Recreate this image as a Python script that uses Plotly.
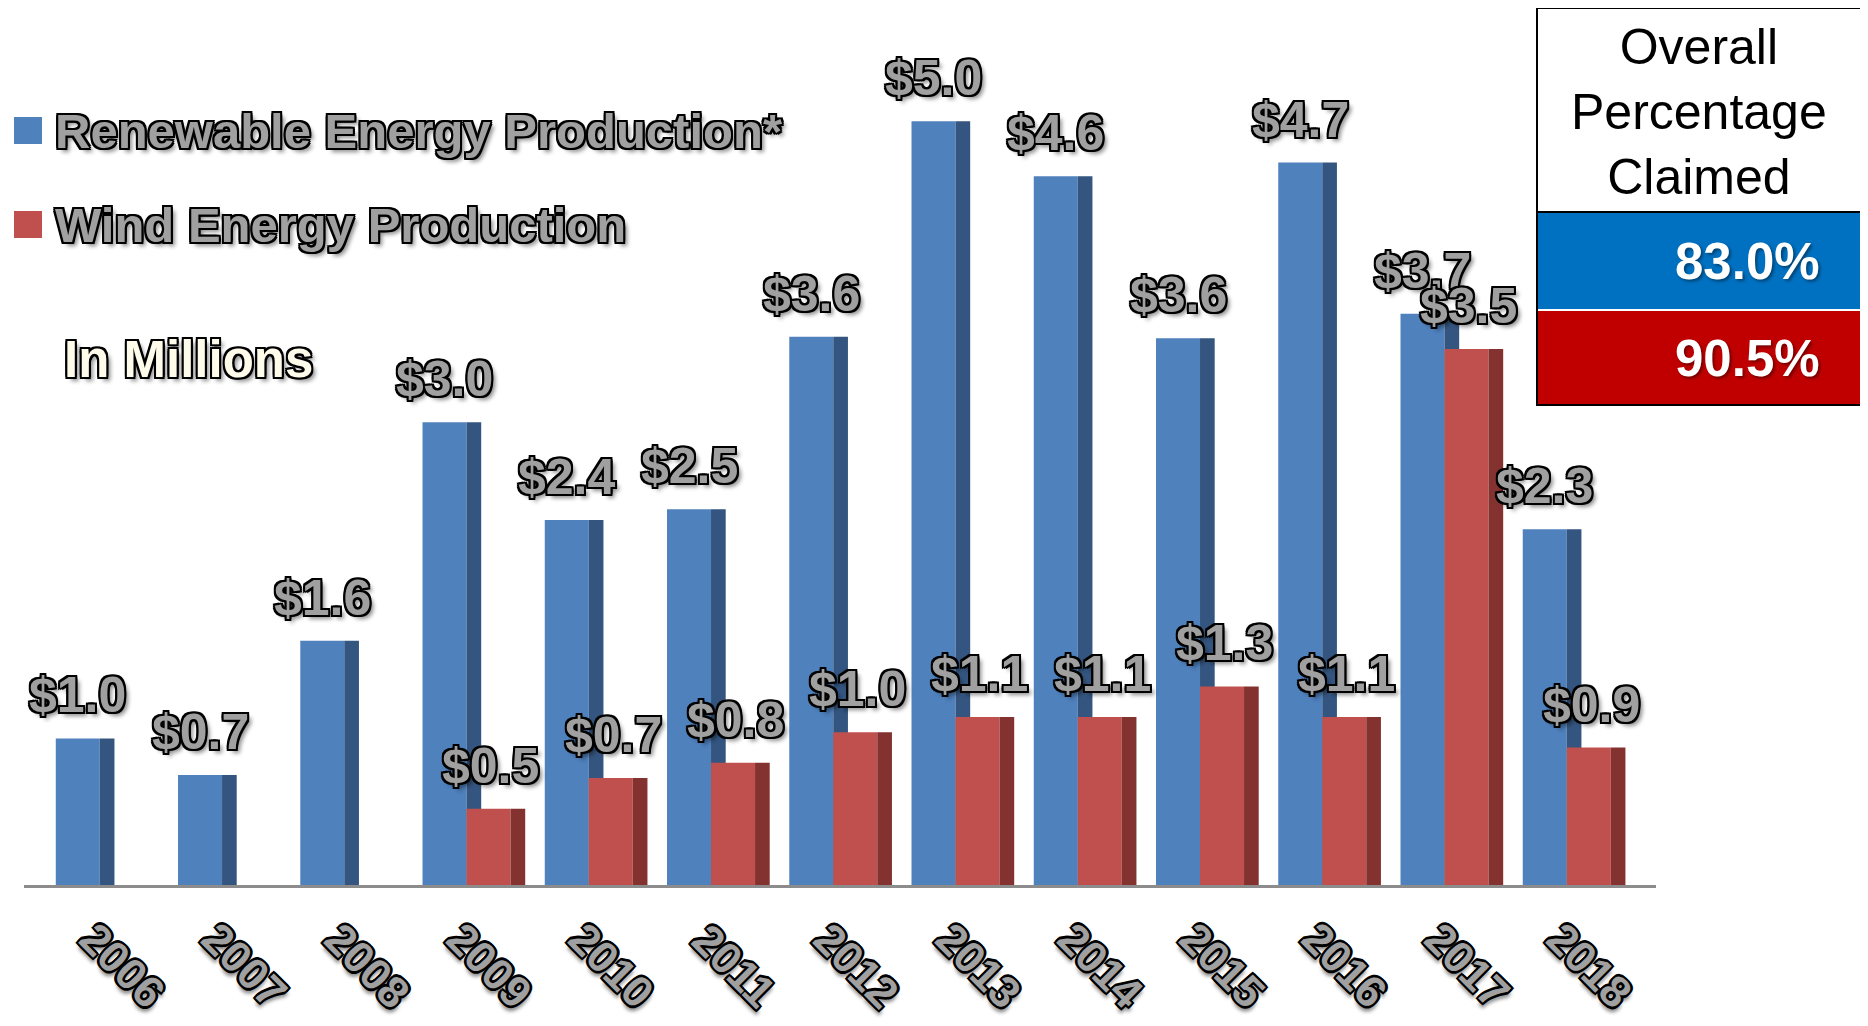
import plotly.graph_objects as go

years = ["2006", "2007", "2008", "2009", "2010", "2011", "2012",
         "2013", "2014", "2015", "2016", "2017", "2018"]
renewable = [0.96, 0.72, 1.60, 3.03, 2.39, 2.46, 3.59, 5.00, 4.64, 3.58, 4.73, 3.74, 2.33]
wind = [None, None, None, 0.50, 0.70, 0.80, 1.00, 1.10, 1.10, 1.30, 1.10, 3.51, 0.90]
series_names = ["Renewable Energy Production*", "Wind Energy Production"]
unit_note = "In Millions"
table_title = "Overall<br>Percentage<br>Claimed"
overall_pct = ["83.0%", "90.5%"]

OFF = 8  # page body margin
W, H = 1868 - 2 * OFF, 1026 - 2 * OFF
L, R, T, B = 16, 204, 37, 133
PW, PH = W - L - R, H - T - B


def px(xp):
    return (xp - OFF - L) / PW


def py(yp):
    return 1 - (yp - OFF - T) / PH


BLUE, BLUE_SIDE = "#4F81BD", "#34557F"
RED, RED_SIDE = "#C0504D", "#843230"
FW, SW = 0.36, 0.12

OUTLINE = ("-2px -2px 0 #000, 2px -2px 0 #000, -2px 2px 0 #000, 2px 2px 0 #000, "
           "0 -2px 0 #000, 0 2px 0 #000, -2px 0 0 #000, 2px 0 0 #000, "
           "4px 4px 4px rgba(0,0,0,0.45)")
FONT = "Liberation Sans, Arial, sans-serif"


def ofont(size, color="#a0a0a0"):
    return dict(family=FONT, size=size, color=color, weight="bold", shadow=OUTLINE)


x = list(range(len(years)))

fig = go.Figure()
fig.add_bar(x=x, y=renewable, offset=-FW, width=FW, marker=dict(color=BLUE, line_width=0))
fig.add_bar(x=x, y=renewable, offset=0, width=SW, marker=dict(color=BLUE_SIDE, line_width=0))
fig.add_bar(x=x, y=wind, offset=0, width=FW, marker=dict(color=RED, line_width=0))
fig.add_bar(x=x, y=wind, offset=FW, width=SW, marker=dict(color=RED_SIDE, line_width=0))

annotations = []
# data labels
for i, v in enumerate(renewable):
    annotations.append(dict(x=i - FW / 2, y=v, xref="x", yref="y", text=f"${v:.1f}",
                            showarrow=False, xanchor="center", yanchor="bottom", yshift=13,
                            font=ofont(50)))
for i, v in enumerate(wind):
    if v is None:
        continue
    annotations.append(dict(x=i + FW / 2 + 0.02, y=v, xref="x", yref="y", text=f"${v:.1f}",
                            showarrow=False, xanchor="center", yanchor="bottom", yshift=13,
                            font=ofont(50)))
# year labels
for i, yr in enumerate(years):
    annotations.append(dict(x=i + 0.19, y=0, xref="x", yref="y", yshift=-80, text=yr,
                            textangle=45, showarrow=False, xanchor="center", yanchor="middle",
                            borderpad=0, font=ofont(44)))

# legend
legend_y = [131, 225]
legend_cols = [BLUE, RED]
shapes = []
for name, col, yc in zip(series_names, legend_cols, legend_y):
    shapes.append(dict(type="rect", xref="paper", yref="paper", x0=px(14), x1=px(42),
                       y0=py(yc + 13), y1=py(yc - 14), fillcolor=col, line_width=0))
    annotations.append(dict(x=px(53), y=py(yc), xref="paper", yref="paper", text=name,
                            showarrow=False, xanchor="left", yanchor="middle",
                            font=ofont(49)))
annotations.append(dict(x=px(62), y=py(359), xref="paper", yref="paper", text=unit_note,
                        showarrow=False, xanchor="left", yanchor="middle",
                        font=ofont(51, "#FFFBEA")))

# table box
shapes.append(dict(type="rect", xref="paper", yref="paper", x0=px(1537), x1=px(1861),
                   y0=py(405), y1=py(8), fillcolor="white", line=dict(color="black", width=2)))
shapes.append(dict(type="rect", xref="paper", yref="paper", x0=px(1538), x1=px(1860),
                   y0=py(309), y1=py(212), fillcolor="#0070C0", line_width=0))
shapes.append(dict(type="rect", xref="paper", yref="paper", x0=px(1538), x1=px(1860),
                   y0=py(404), y1=py(311), fillcolor="#C00000", line_width=0))
shapes.append(dict(type="line", xref="paper", yref="paper", x0=px(1537), x1=px(1861),
                   y0=py(212), y1=py(212), line=dict(color="black", width=2)))
shapes.append(dict(type="rect", xref="paper", yref="paper", x0=px(1537), x1=px(1861),
                   y0=py(405), y1=py(8), fillcolor="rgba(0,0,0,0)",
                   line=dict(color="black", width=2)))
annotations.append(dict(x=px(1699), y=py(112), xref="paper", yref="paper", text=table_title,
                        showarrow=False, xanchor="center", yanchor="middle",
                        font=dict(family=FONT, size=50, color="black")))
for txt, yc in zip(overall_pct, [262, 358]):
    annotations.append(dict(x=px(1822), y=py(yc), xref="paper", yref="paper", text=txt,
                            showarrow=False, xanchor="right", yanchor="middle",
                            font=dict(family=FONT, size=51, color="white", weight="bold",
                                      shadow="2px 2px 3px rgba(0,0,0,0.4)")))

fig.update_layout(
    width=W, height=H, margin=dict(l=L, r=R, t=T, b=B, autoexpand=False),
    paper_bgcolor="white", plot_bgcolor="white", barmode="overlay",
    xaxis=dict(range=[-0.62, 12.73], showticklabels=False, ticks="", showgrid=False,
               zeroline=False, showline=True, linecolor="#8c8c8c", linewidth=3),
    yaxis=dict(range=[0, 5.5], visible=False, showgrid=False),
    shapes=shapes, annotations=annotations, showlegend=False,
)
fig.write_html("out.html")
